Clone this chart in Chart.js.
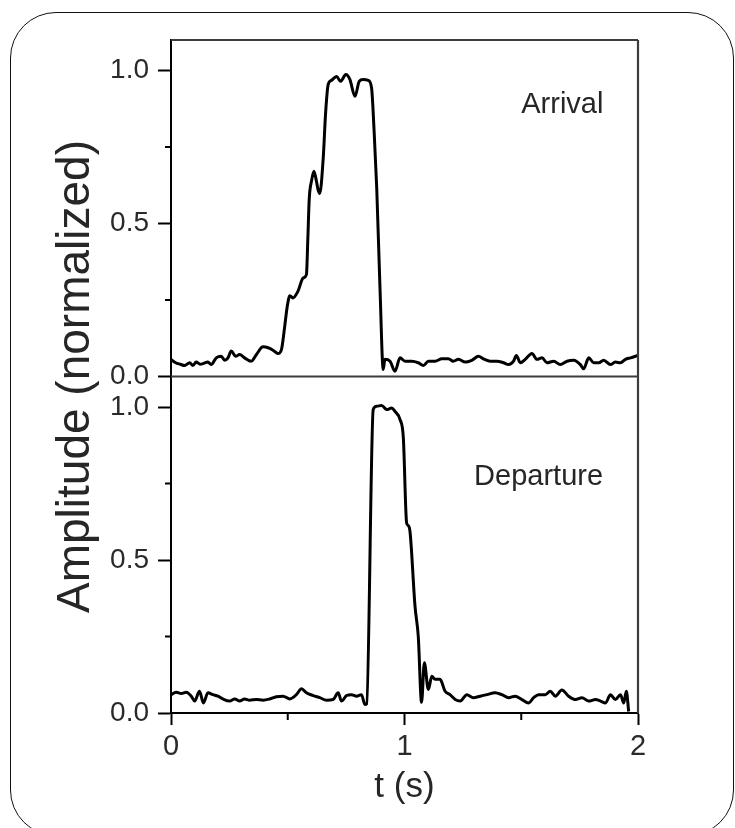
<!DOCTYPE html>
<html>
<head>
<meta charset="utf-8">
<script src="https://cdn.jsdelivr.net/npm/chart.js@4/dist/chart.umd.min.js"></script>
<style>
  html, body { margin: 0; padding: 0; background: #fff; overflow: hidden; }
  #wrap { position: relative; width: 735px; height: 828px; }
  #frame { position: absolute; left: 10px; top: 12px; width: 724px; height: 824px;
           box-sizing: border-box; border: 1.5px solid #111; border-radius: 46px; }
  #c { position: absolute; left: 0; top: 0; }
</style>
</head>
<body>
<div id="wrap">
  <div id="frame"></div>
  <canvas id="c" width="735" height="828"></canvas>
</div>
<script>
// ---- data ----
const tArrival = [0.000,0.020,0.040,0.058,0.080,0.094,0.108,0.125,0.137,0.158,0.172,0.194,0.215,0.230,0.244,0.258,0.277,0.294,0.315,0.344,0.366,0.394,0.416,0.437,0.458,0.473,0.487,0.498,0.509,0.523,0.544,0.566,0.580,0.586,0.592,0.602,0.612,0.623,0.630,0.637,0.652,0.662,0.673,0.687,0.709,0.726,0.749,0.766,0.788,0.806,0.823,0.845,0.859,0.870,0.881,0.895,0.909,0.916,0.938,0.959,0.981,1.002,1.031,1.059,1.081,1.102,1.131,1.160,1.188,1.209,1.231,1.260,1.288,1.317,1.338,1.367,1.396,1.424,1.446,1.467,1.479,1.496,1.517,1.546,1.567,1.589,1.610,1.639,1.667,1.696,1.725,1.753,1.767,1.789,1.810,1.832,1.853,1.882,1.903,1.925,1.946,1.968,2.000];
const ampArrival = [0.056,0.045,0.040,0.036,0.045,0.036,0.047,0.040,0.042,0.047,0.039,0.061,0.066,0.053,0.061,0.083,0.066,0.072,0.061,0.050,0.072,0.097,0.094,0.086,0.075,0.088,0.164,0.230,0.264,0.257,0.279,0.322,0.333,0.450,0.580,0.640,0.671,0.638,0.610,0.598,0.715,0.860,0.954,0.968,0.981,0.965,0.987,0.971,0.916,0.965,0.971,0.968,0.943,0.800,0.617,0.290,0.023,0.056,0.050,0.017,0.061,0.050,0.050,0.045,0.036,0.050,0.050,0.058,0.058,0.050,0.056,0.047,0.053,0.066,0.058,0.050,0.050,0.045,0.039,0.050,0.069,0.045,0.056,0.075,0.056,0.061,0.045,0.050,0.039,0.050,0.053,0.039,0.025,0.061,0.045,0.045,0.053,0.039,0.047,0.045,0.056,0.061,0.069];

const tDeparture = [0.000,0.022,0.044,0.065,0.087,0.101,0.122,0.139,0.158,0.179,0.201,0.222,0.251,0.273,0.294,0.315,0.337,0.366,0.394,0.423,0.451,0.480,0.509,0.537,0.559,0.580,0.609,0.637,0.666,0.694,0.716,0.730,0.752,0.773,0.795,0.816,0.830,0.838,0.866,0.881,0.902,0.924,0.945,0.959,0.981,0.995,1.009,1.017,1.024,1.045,1.059,1.073,1.085,1.102,1.117,1.131,1.152,1.174,1.195,1.217,1.238,1.267,1.295,1.324,1.353,1.388,1.417,1.446,1.474,1.503,1.531,1.553,1.574,1.603,1.624,1.646,1.674,1.703,1.732,1.760,1.789,1.818,1.839,1.861,1.882,1.903,1.925,1.939,1.950,1.960];
const ampDeparture = [0.060,0.068,0.064,0.068,0.055,0.039,0.071,0.033,0.066,0.060,0.055,0.046,0.039,0.046,0.039,0.046,0.042,0.044,0.042,0.046,0.053,0.055,0.046,0.060,0.079,0.066,0.057,0.050,0.042,0.044,0.066,0.039,0.057,0.060,0.055,0.060,0.028,0.030,0.992,1.003,1.005,0.992,0.997,0.986,0.959,0.900,0.622,0.612,0.590,0.349,0.250,0.035,0.164,0.077,0.120,0.110,0.110,0.071,0.060,0.044,0.039,0.060,0.050,0.055,0.060,0.066,0.060,0.050,0.055,0.044,0.033,0.050,0.060,0.060,0.071,0.055,0.075,0.055,0.044,0.050,0.039,0.044,0.039,0.033,0.060,0.044,0.060,0.033,0.071,0.005];

const panelLabels = ['Arrival', 'Departure'];
const yTitle = 'Amplitude (normalized)';
const xTitle = 't (s)';

// ---- chart ----
const FONT = "'Liberation Sans', Arial, Helvetica, sans-serif";
const toXY = (ts, vs) => ts.map((t, i) => ({x: t, y: vs[i]}));
const isHalf = v => Math.abs(v * 2 - Math.round(v * 2)) < 1e-6;
const isInt = v => Math.abs(v - Math.round(v)) < 1e-6;

function yAxis(weight) {
  return {
    type: 'linear', position: 'left', stack: 'amp', stackWeight: 1, weight: weight,
    min: 0, max: 1.1,
    border: {display: true, color: '#000', width: 2},
    grid: {drawOnChartArea: false, drawTicks: true, tickLength: 13, tickWidth: 2,
           tickColor: c => (c.tick && isHalf(c.tick.value)) ? '#000' : 'rgba(0,0,0,0)'},
    ticks: {stepSize: 0.25, includeBounds: false, autoSkip: false, padding: 9,
            color: '#2a2a2a', font: {family: FONT, size: 28},
            callback: v => isHalf(v) ? v.toFixed(1) : ''},
    afterFit: s => { s.width = 171; }
  };
}

const decor = {
  id: 'decor',
  afterDraw(chart) {
    const {ctx, chartArea: ca, scales} = chart;
    const yT = scales.yTop, yB = scales.yBot, x = scales.x;
    ctx.save();
    // panel frames
    ctx.strokeStyle = '#3c3c3c';
    ctx.lineWidth = 2.2;
    ctx.beginPath();
    ctx.moveTo(ca.left, yT.top); ctx.lineTo(ca.right, yT.top);
    ctx.moveTo(ca.right, yT.top); ctx.lineTo(ca.right, yB.bottom);
    ctx.moveTo(ca.left, yT.bottom); ctx.lineTo(ca.right, yT.bottom);
    ctx.stroke();
    // minor ticks
    ctx.strokeStyle = '#000';
    ctx.lineWidth = 2;
    ctx.beginPath();
    [yT, yB].forEach(s => {
      s.ticks.forEach(tk => {
        if (!isHalf(tk.value)) {
          const p = s.getPixelForValue(tk.value);
          ctx.moveTo(ca.left - 6, p); ctx.lineTo(ca.left, p);
        }
      });
    });
    x.ticks.forEach(tk => {
      if (!isInt(tk.value)) {
        const p = x.getPixelForValue(tk.value);
        ctx.moveTo(p, ca.bottom); ctx.lineTo(p, ca.bottom + 7);
      }
    });
    ctx.stroke();
    // panel labels
    ctx.fillStyle = '#262626';
    ctx.font = '29px ' + FONT;
    ctx.textAlign = 'left';
    ctx.textBaseline = 'middle';
    ctx.fillText(panelLabels[0], x.getPixelForValue(1.50), yT.getPixelForValue(0.888));
    ctx.fillText(panelLabels[1], x.getPixelForValue(1.298), yB.getPixelForValue(0.77));
    // y title
    ctx.font = '46px ' + FONT;
    ctx.textAlign = 'center';
    ctx.translate(76, (yT.top + yB.bottom) / 2);
    ctx.rotate(-Math.PI / 2);
    ctx.fillText(yTitle, 0, 0);
    ctx.restore();
  }
};

new Chart(document.getElementById('c'), {
  type: 'line',
  data: {
    datasets: [
      {label: panelLabels[0], data: toXY(tArrival, ampArrival), yAxisID: 'yTop',
       borderColor: '#000', borderWidth: 3, pointRadius: 0, cubicInterpolationMode: 'monotone', fill: false},
      {label: panelLabels[1], data: toXY(tDeparture, ampDeparture), yAxisID: 'yBot',
       borderColor: '#000', borderWidth: 3, pointRadius: 0, cubicInterpolationMode: 'monotone', fill: false}
    ]
  },
  options: {
    responsive: false, animation: false, devicePixelRatio: 1,
    layout: {padding: {left: 0, right: 97, top: 40, bottom: 10}},
    plugins: {legend: {display: false}, tooltip: {enabled: false}},
    scales: {
      x: {
        type: 'linear', position: 'bottom', min: 0, max: 2,
        border: {display: true, color: '#000', width: 2},
        grid: {drawOnChartArea: false, drawTicks: true, tickLength: 12, tickWidth: 2,
               tickColor: c => (c.tick && isInt(c.tick.value)) ? '#000' : 'rgba(0,0,0,0)'},
        ticks: {stepSize: 0.5, autoSkip: false, maxRotation: 0, padding: 5,
                color: '#2a2a2a', font: {family: FONT, size: 29},
                callback: v => isInt(v) ? String(Math.round(v)) : ''},
        title: {display: true, text: xTitle, color: '#262626', font: {family: FONT, size: 35},
                padding: {top: 0, bottom: 10}},
        afterFit: s => { s.height = 105; }
      },
      yBot: yAxis(0),
      yTop: yAxis(1)
    }
  },
  plugins: [decor]
});
</script>
</body>
</html>
